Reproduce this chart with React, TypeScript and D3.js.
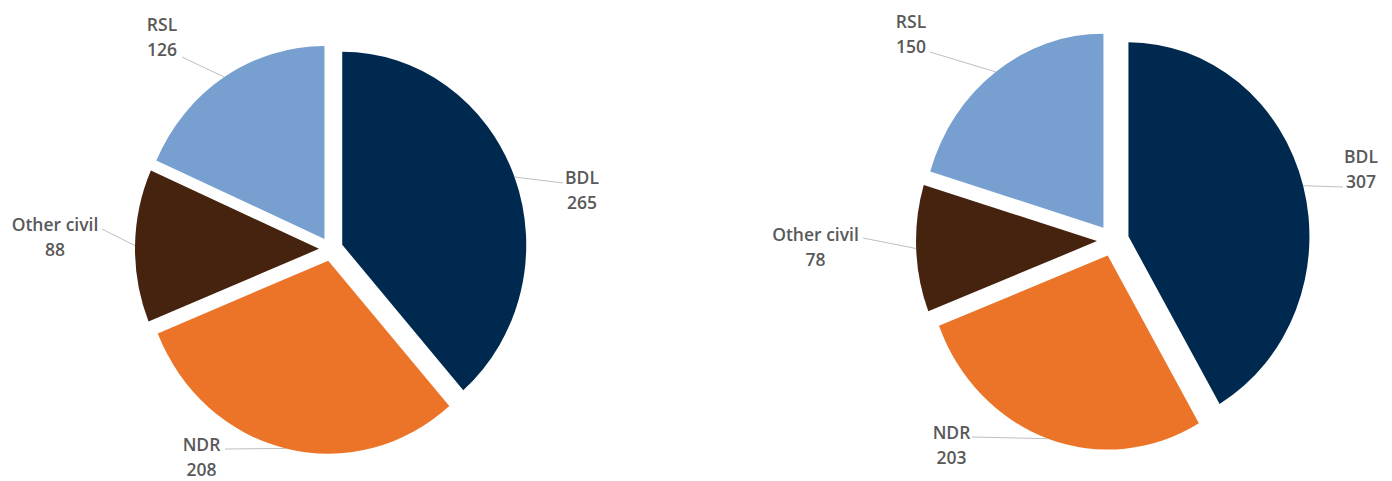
import React from "react";
import * as d3 from "d3";

const categories = ["BDL", "NDR", "Other civil", "RSL"];
const valuesLeft = [265, 208, 88, 126];
const valuesRight = [307, 203, 78, 150];
const colors = ["#00294F", "#EB7428", "#45230F", "#77A0D1"];

type LabelPos = { x: number; y: number; lx: number; ly: number };
type Layout = {
  cx: number;
  cy: number;
  rx: number;
  ry: number;
  explode: number;
  labels: LabelPos[];
};

const layoutLeft: Layout = {
  cx: 331,
  cy: 249,
  rx: 184,
  ry: 193,
  explode: 12,
  labels: [
    { x: 582, y: 178, lx: 563, ly: 183 },
    { x: 201.5, y: 445, lx: 225, ly: 449 },
    { x: 55, y: 225, lx: 102, ly: 229 },
    { x: 162, y: 25, lx: 182, ly: 57 },
  ],
};

const layoutRight: Layout = {
  cx: 1113,
  cy: 240.5,
  rx: 181,
  ry: 194,
  explode: 16,
  labels: [
    { x: 1361, y: 156.7, lx: 1343, ly: 187 },
    { x: 951.5, y: 433, lx: 972, ly: 437 },
    { x: 815.5, y: 235, lx: 863, ly: 238 },
    { x: 911, y: 21.7, lx: 930, ly: 52 },
  ],
};

function Pie({ values, layout }: { values: number[]; layout: Layout }) {
  const data = categories.map((c, i) => ({ name: c, value: values[i], color: colors[i] }));
  const pie = d3
    .pie<{ name: string; value: number; color: string }>()
    .sort(null)
    .value((d) => d.value)
    .startAngle(0)
    .endAngle(2 * Math.PI);
  const arcs = pie(data);
  const arc = d3
    .arc<d3.PieArcDatum<{ name: string; value: number; color: string }>>()
    .innerRadius(0)
    .outerRadius(layout.rx);
  const k = layout.ry / layout.rx;
  return (
    <g>
      <g transform={`translate(${layout.cx},${layout.cy}) scale(1,${k})`}>
        {arcs.map((a, i) => {
          const mid = (a.startAngle + a.endAngle) / 2;
          const ox = layout.explode * Math.sin(mid);
          const oy = (-layout.explode * Math.cos(mid)) / k;
          return (
            <path
              key={i}
              d={arc(a) || ""}
              transform={`translate(${ox},${oy})`}
              fill={a.data.color}
            />
          );
        })}
      </g>
      {arcs.map((a, i) => {
        const mid = (a.startAngle + a.endAngle) / 2;
        const ex = layout.cx + (layout.explode + layout.rx) * Math.sin(mid);
        const ey = layout.cy - (layout.explode + layout.ry) * Math.cos(mid);
        const lp = layout.labels[i];
        return (
          <g key={"l" + i}>
            <line x1={lp.lx} y1={lp.ly} x2={ex} y2={ey} stroke="#BFBFBF" strokeWidth={1} />
            <text
              x={lp.x}
              y={lp.y}
              textAnchor="middle"
              fill="#595959"
              fontFamily="'Open Sans', sans-serif"
              fontWeight={600}
              fontSize={17.5}
            >
              <tspan x={lp.x} dy="0.35em">{a.data.name}</tspan>
              <tspan x={lp.x} dy="25">{String(a.data.value)}</tspan>
            </text>
          </g>
        );
      })}
    </g>
  );
}

export default function App() {
  return (
    <svg
      width={1392}
      height={481}
      style={{ position: "absolute", left: 0, top: 0, background: "#fff" }}
    >
      <rect width={1392} height={481} fill="#fff" />
      <Pie values={valuesLeft} layout={layoutLeft} />
      <Pie values={valuesRight} layout={layoutRight} />
    </svg>
  );
}
